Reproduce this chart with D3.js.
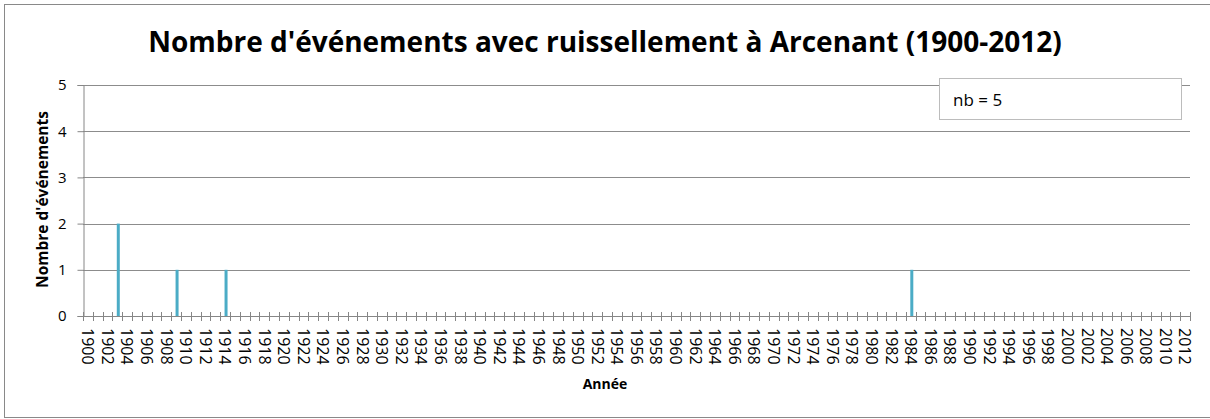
<!DOCTYPE html>
<html>
<head>
<meta charset="utf-8">
<script src="https://cdn.jsdelivr.net/npm/d3@7"></script>
<style>
body { margin: 0; background: #fff; }
text { font-family: "Open Sans", "Noto Sans", sans-serif; }
</style>
</head>
<body>
<div class="chart"></div>
<script>
var width = 1210;
var height = 419;

// categories: every year between 1900 and 2012
var years = d3.range(1900, 2013);
// years with runoff events and their counts
var eventYears = [1903, 1909, 1914, 1984];
var eventCounts = [2, 1, 1, 1];
var yTicks = [0, 1, 2, 3, 4, 5];
var titleText = "Nombre d'événements avec ruissellement à Arcenant (1900-2012)";
var legendText = "nb = 5";

var plotLeft = 83, plotRight = 1190, plotTop = 85, plotBottom = 316;

var svg = d3.select(".chart").append("svg")
	.attr("width", width)
	.attr("height", height);

// chart border (right edge falls outside the picture)
svg.append("rect")
	.attr("x", 4.5).attr("y", 4.5)
	.attr("width", width).attr("height", 413)
	.attr("fill", "none")
	.attr("stroke", "#898989");

var xScale = d3.scaleBand()
	.domain(years)
	.range([plotLeft, plotRight]);

var yScale = d3.scaleLinear()
	.domain([0, 5])
	.range([plotBottom, plotTop]);

// gridlines
svg.append("g")
	.selectAll("line")
	.data(yTicks.slice(1))
	.enter().append("line")
	.attr("x1", plotLeft).attr("x2", plotRight)
	.attr("y1", function (d) { return Math.round(yScale(d)) + 0.5; })
	.attr("y2", function (d) { return Math.round(yScale(d)) + 0.5; })
	.attr("stroke", "#8c8c8c");

// bars
svg.append("g")
	.selectAll("rect")
	.data(eventYears)
	.enter().append("rect")
	.attr("x", function (d) { return xScale(d) + xScale.bandwidth()/2 - 0.5; })
	.attr("width", 3)
	.attr("y", function (d, i) { return yScale(eventCounts[i]); })
	.attr("height", function (d, i) { return yScale(0) - yScale(eventCounts[i]); })
	.attr("fill", "#4bacc6");

// y axis
var yAxis = d3.axisLeft(yScale)
	.tickValues(yTicks)
	.tickSize(6)
	.tickPadding(11)
	.tickFormat(d3.format("d"));
var yg = svg.append("g")
	.attr("transform", "translate(" + (plotLeft + 0.5) + ",0)")
	.call(yAxis);
yg.select(".domain").attr("stroke", "#868686");
yg.selectAll(".tick line").attr("stroke", "#868686");
yg.selectAll(".tick text")
	.style("font-size", "15px")
	.attr("fill", "#000");

// x axis line with cross tick marks at category boundaries
var xg = svg.append("g");
xg.append("line")
	.attr("x1", plotLeft).attr("x2", plotRight)
	.attr("y1", plotBottom + 0.5).attr("y2", plotBottom + 0.5)
	.attr("stroke", "#868686");
var bounds = years.map(function (d) { return xScale(d); }).concat([plotRight]);
xg.selectAll(".xt")
	.data(bounds)
	.enter().append("line")
	.attr("class", "xt")
	.attr("x1", function (d) { return Math.round(d) + 0.5; })
	.attr("x2", function (d) { return Math.round(d) + 0.5; })
	.attr("y1", plotBottom - 4)
	.attr("y2", plotBottom + 5)
	.attr("stroke", "#868686");

// x tick labels, every two years, rotated
xg.selectAll(".xl")
	.data(years.filter(function (d) { return d % 2 === 0; }))
	.enter().append("text")
	.attr("class", "xl")
	.attr("transform", function (d) {
		return "translate(" + (xScale(d) + xScale.bandwidth()/2) + "," + (plotBottom + 12) + ") rotate(90)";
	})
	.attr("dy", "0.35em")
	.style("font-size", "16px")
	.attr("fill", "#000")
	.text(function (d) { return d; });

// title
svg.append("text")
	.attr("x", 605).attr("y", 52)
	.attr("text-anchor", "middle")
	.style("font-size", "28px")
	.style("font-weight", "bold")
	.text(titleText);

// axis titles
svg.append("text")
	.attr("transform", "translate(47.5," + ((110 + 289)/2) + ") rotate(-90)")
	.attr("text-anchor", "middle")
	.style("font-size", "15.5px")
	.style("font-weight", "bold")
	.text("Nombre d'événements");

svg.append("text")
	.attr("x", 605).attr("y", 389)
	.attr("text-anchor", "middle")
	.style("font-size", "14px")
	.style("font-weight", "bold")
	.text("Année");

// legend box
svg.append("rect")
	.attr("x", 939.5).attr("y", 78.5)
	.attr("width", 242).attr("height", 41)
	.attr("fill", "#fff")
	.attr("stroke", "#bcbcbc");
svg.append("text")
	.attr("x", 953).attr("y", 105.5)
	.style("font-size", "17px")
	.text(legendText);
</script>
</body>
</html>
